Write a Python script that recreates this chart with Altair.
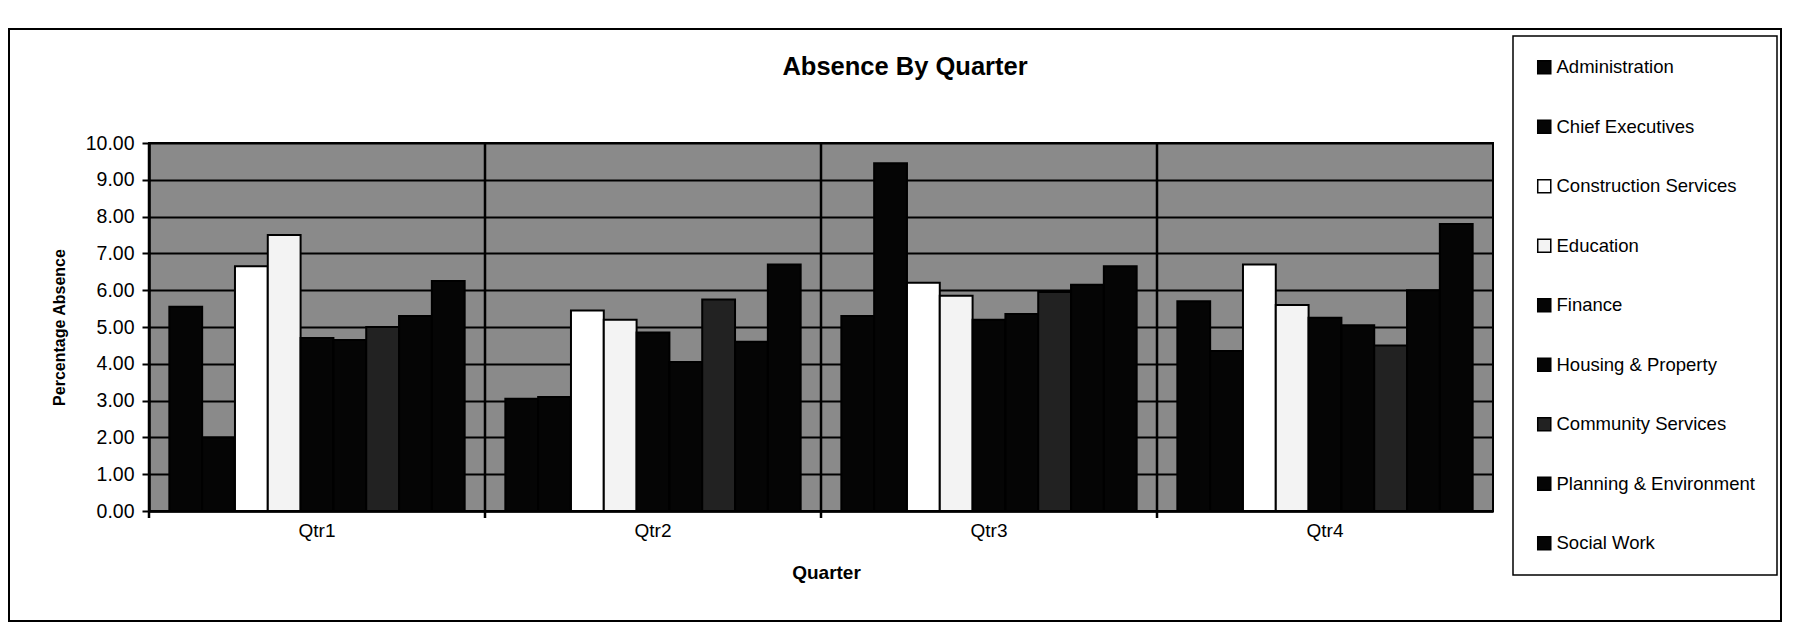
import altair as alt
import pandas as pd

chart_title = "Absence By Quarter"
quarters = ["Qtr1", "Qtr2", "Qtr3", "Qtr4"]
departments = [
    "Administration", "Chief Executives", "Construction Services", "Education",
    "Finance", "Housing & Property", "Community Services",
    "Planning & Environment", "Social Work",
]
administration = [5.55, 3.05, 5.30, 5.70]
chief_executives = [2.00, 3.10, 9.45, 4.35]
construction_services = [6.65, 5.45, 6.20, 6.70]
education = [7.50, 5.20, 5.85, 5.60]
finance = [4.70, 4.85, 5.20, 5.25]
housing_property = [4.65, 4.05, 5.35, 5.05]
community_services = [5.00, 5.75, 5.95, 4.50]
planning_environment = [5.30, 4.60, 6.15, 6.00]
social_work = [6.25, 6.70, 6.65, 7.80]
y_ticks = [0, 1, 2, 3, 4, 5, 6, 7, 8, 9, 10]

series = [administration, chief_executives, construction_services, education,
          finance, housing_property, community_services, planning_environment,
          social_work]
fills = ["#050505", "#050505", "#ffffff", "#f3f3f3", "#050505", "#050505",
         "#222222", "#050505", "#050505"]

rows = []
for dept, vals in zip(departments, series):
    for q, v in zip(quarters, vals):
        rows.append({"quarter": q, "department": dept, "absence": v})
df = pd.DataFrame(rows)

W, H = 1344, 368
FONT = "Liberation Sans"

xaxis = alt.Axis(
    title="Quarter", labelAngle=0, labelFontSize=19, labelColor="black",
    labelPadding=10, ticks=False, domainColor="black", domainWidth=2.5,
    grid=False, titleFontSize=19, titleFontWeight="bold", titleColor="black",
    titleX=677, titleY=61, titleBaseline="middle",
)
xscale = alt.Scale(paddingInner=0, paddingOuter=0)

bars = alt.Chart(df).mark_bar(stroke="black", strokeWidth=2).encode(
    x=alt.X("quarter:N", sort=quarters, scale=xscale, axis=xaxis),
    xOffset=alt.XOffset("department:N", sort=departments,
                        scale=alt.Scale(paddingInner=0, paddingOuter=0.62)),
    y=alt.Y("absence:Q", scale=alt.Scale(domain=[0, 10], nice=False),
            axis=alt.Axis(
                title="Percentage Absence", values=y_ticks, format=".2f",
                labelFontSize=19.5, labelColor="black", labelPadding=8,
                tickSize=7, tickColor="black", tickWidth=2,
                domainColor="black", domainWidth=2.5,
                gridColor="black", gridWidth=1.8, gridOpacity=1,
                titleFontSize=16, titleFontWeight="bold", titleColor="black",
                titleX=-90, titleY=H / 2, titleBaseline="middle", titleAlign="center",
            )),
    color=alt.Color("department:N", sort=departments,
                    scale=alt.Scale(domain=departments, range=fills),
                    legend=alt.Legend(title=None, orient="none",
                                      legendX=1364, legendY=-107)),
)

seps = alt.Chart(pd.DataFrame({"quarter": quarters})).mark_rule(
    color="black", strokeWidth=2.5
).encode(
    x=alt.X("quarter:N", sort=quarters, scale=xscale, axis=xaxis, bandPosition=0),
    y=alt.value(0),
    y2=alt.value(H + 7),
)

frame = alt.Chart(pd.DataFrame({"k": [0]})).mark_rect(
    filled=False, stroke="black", strokeWidth=2
).encode(
    x=alt.value(-140), x2=alt.value(1632), y=alt.value(-114), y2=alt.value(478)
)

title = alt.Chart(pd.DataFrame({"label": [chart_title]})).mark_text(
    font=FONT, fontSize=25.5, fontWeight="bold", color="black",
    align="center", baseline="middle"
).encode(text="label:N", x=alt.value(756), y=alt.value(-76))

chart = alt.layer(frame, bars, seps, title).properties(
    width=W, height=H,
    autosize=alt.AutoSizeParams(type="none"),
    padding={"left": 141, "top": 135, "right": 292, "bottom": 113},
).configure(font=FONT, background="white").configure_view(
    fill="#8a8a8a", stroke="black", strokeWidth=2
).configure_legend(
    padding=22, strokeColor="black", strokeWidth=1.5, fillColor="white",
    symbolType="square", symbolSize=170, symbolStrokeColor="black",
    symbolStrokeWidth=1.5, labelFontSize=18.5, labelColor="black",
    labelOffset=3, rowPadding=39.5, labelLimit=400,
)

chart.save("out.html", embed_options={"renderer": "svg", "actions": False})
